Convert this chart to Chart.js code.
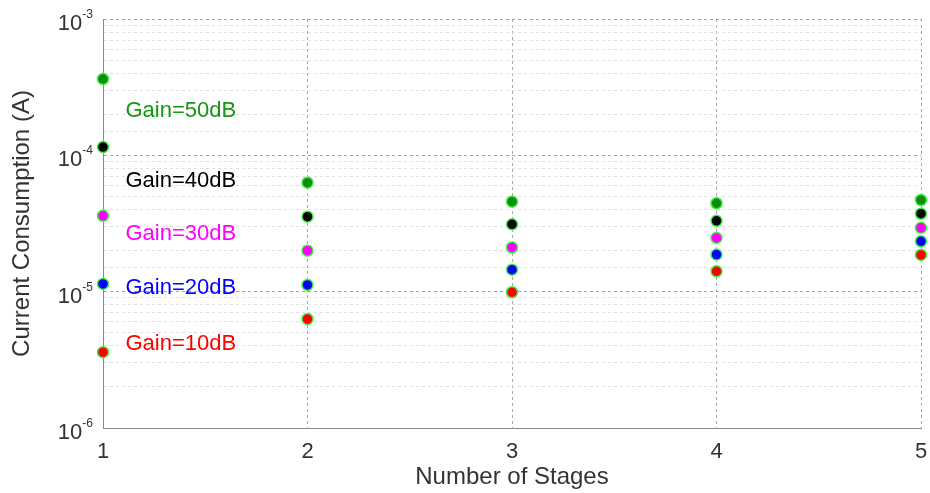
<!DOCTYPE html>
<html>
<head>
<meta charset="utf-8">
<script src="https://cdn.jsdelivr.net/npm/chart.js@4/dist/chart.umd.min.js"></script>
<style>
  html, body { margin: 0; padding: 0; background: #fff; }
  #wrap { width: 930px; height: 493px; }
</style>
</head>
<body>
<div id="wrap"><canvas id="c"></canvas></div>
<script>
// Supply current (A) versus number of amplifier stages, one series per total gain
const stages = [1, 2, 3, 4, 5];
const gain10 = [3.6e-6, 6.3e-6, 9.9e-6, 1.41e-5, 1.86e-5];
const gain20 = [1.14e-5, 1.12e-5, 1.45e-5, 1.87e-5, 2.34e-5];
const gain30 = [3.6e-5, 2.0e-5, 2.11e-5, 2.48e-5, 2.94e-5];
const gain40 = [1.15e-4, 3.55e-5, 3.12e-5, 3.31e-5, 3.73e-5];
const gain50 = [3.63e-4, 6.3e-5, 4.57e-5, 4.45e-5, 4.70e-5];

// Axis ticks
const xTickLabels = ['1', '2', '3', '4', '5'];
const yDecades = [-6, -5, -4, -3];

// In-plot series annotations (data coordinates)
const gainNames = ['Gain=50dB', 'Gain=40dB', 'Gain=30dB', 'Gain=20dB', 'Gain=10dB'];
const gainNameX = 1.11;
const gainNameY = [2.11e-4, 6.47e-5, 2.65e-5, 1.07e-5, 4.13e-6];

const FONT = "'Liberation Sans', Arial, Helvetica, sans-serif";
const GREEN = '#0e8c0e';
const colours = {
  g50: GREEN, g40: '#000000', g30: '#ff00ff', g20: '#0000ff', g10: '#ff0000'
};
const labelColours = ['#159615', '#000000', '#ff00ff', '#0000ff', '#ff0000'];

function series(values, fill) {
  return {
    data: stages.map((s, i) => ({ x: s, y: values[i] })),
    backgroundColor: fill,
    borderColor: '#3cf03c',
    borderWidth: 1.5,
    pointRadius: 5.5,
    pointHoverRadius: 5.5,
    showLine: false,
    clip: false
  };
}

const isDecade = v => Math.abs(Math.log10(v) - Math.round(Math.log10(v))) < 1e-9;

// Power-of-ten labels with superscript exponents on the y axis
const decadeLabels = {
  id: 'decadeLabels',
  afterDraw(chart) {
    const ctx = chart.ctx;
    const y = chart.scales.y;
    const right = y.right - 10;
    ctx.save();
    ctx.fillStyle = '#333333';
    ctx.textBaseline = 'alphabetic';
    yDecades.forEach(e => {
      const py = y.getPixelForValue(Math.pow(10, e));
      const sup = String(e);
      ctx.font = '12px ' + FONT;
      const w = ctx.measureText(sup).width;
      ctx.textAlign = 'left';
      ctx.fillText(sup, right - w, py - 1);
      ctx.font = '22px ' + FONT;
      ctx.textAlign = 'right';
      ctx.fillText('10', right - w, py + 11);
    });
    ctx.restore();
  }
};

// Gain annotations next to the single-stage points
const gainTags = {
  id: 'gainTags',
  afterDatasetsDraw(chart) {
    const ctx = chart.ctx;
    const xs = chart.scales.x, ys = chart.scales.y;
    ctx.save();
    ctx.font = '22px ' + FONT;
    ctx.textAlign = 'left';
    ctx.textBaseline = 'middle';
    gainNames.forEach((t, i) => {
      ctx.fillStyle = labelColours[i];
      ctx.fillText(t, xs.getPixelForValue(gainNameX), ys.getPixelForValue(gainNameY[i]));
    });
    ctx.restore();
  }
};

new Chart(document.getElementById('c'), {
  type: 'scatter',
  data: {
    datasets: [
      series(gain50, colours.g50),
      series(gain40, colours.g40),
      series(gain30, colours.g30),
      series(gain20, colours.g20),
      series(gain10, colours.g10)
    ]
  },
  options: {
    responsive: true,
    maintainAspectRatio: false,
    animation: false,
    layout: { padding: { top: 19, right: 9, left: 0, bottom: 0 } },
    plugins: { legend: { display: false }, tooltip: { enabled: false } },
    scales: {
      x: {
        type: 'linear',
        min: 1, max: 5,
        afterFit(scale) {
          scale.height = 65;
          scale.paddingLeft = 0;
          scale.paddingRight = 0;
        },
        ticks: {
          stepSize: 1,
          padding: 11,
          color: '#333333',
          font: { family: FONT, size: 22 },
          callback: v => xTickLabels[v - 1]
        },
        grid: { color: '#a9a9a9', lineWidth: 1, drawTicks: false },
        border: { display: true, color: '#8a8a8a', width: 1, dash: [3, 3] },
        title: {
          display: true,
          text: 'Number of Stages',
          color: '#333333',
          font: { family: FONT, size: 24 },
          padding: { top: 0, bottom: 1 }
        }
      },
      y: {
        type: 'logarithmic',
        min: 1e-6, max: 1e-3,
        afterFit(scale) {
          scale.width = 103;
          scale.paddingTop = 0;
          scale.paddingBottom = 0;
        },
        ticks: { callback: () => '', font: { size: 1 }, padding: 0 },
        grid: {
          color: c => (c.tick && isDecade(c.tick.value)) ? '#a3a3a3' : '#e0e0e0',
          lineWidth: 1,
          drawTicks: false
        },
        border: { display: true, color: '#8a8a8a', width: 1, dash: [3, 3] },
        title: {
          display: true,
          text: 'Current Consumption (A)',
          color: '#333333',
          font: { family: FONT, size: 24 },
          padding: { top: 8, bottom: 0 }
        }
      }
    }
  },
  plugins: [decadeLabels, gainTags]
});
</script>
</body>
</html>
